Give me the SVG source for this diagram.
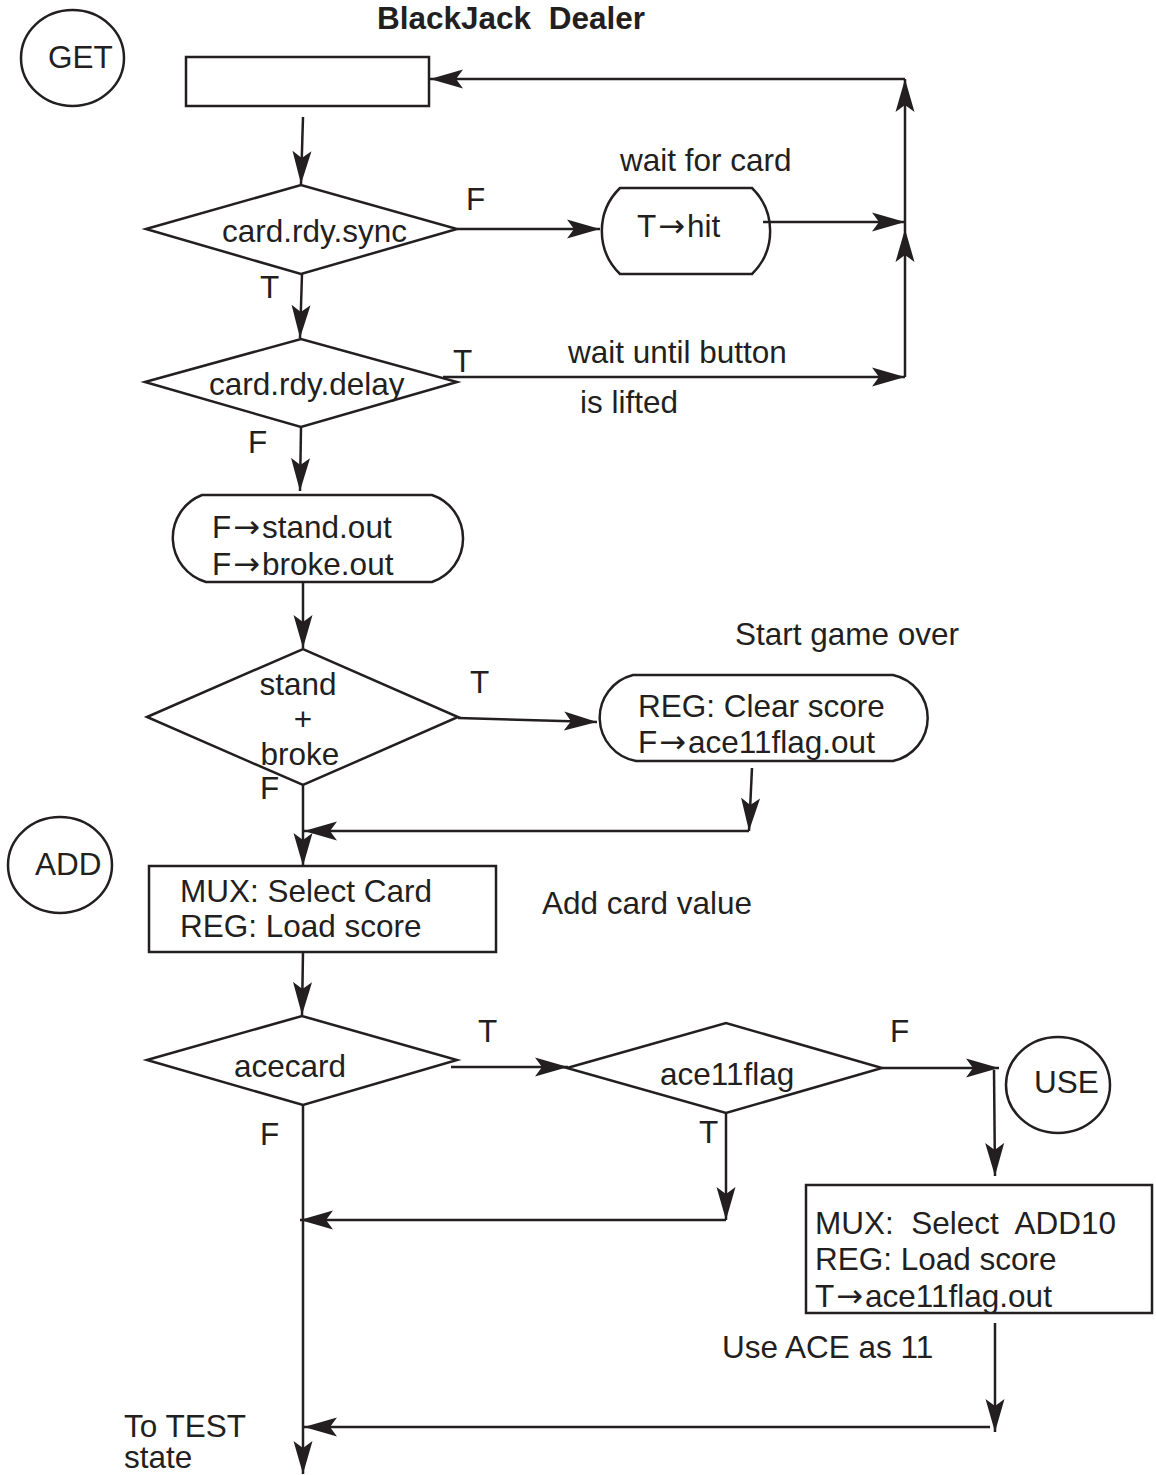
<svg xmlns="http://www.w3.org/2000/svg" width="1156" height="1475" viewBox="0 0 1156 1475">
<style>
text{font-family:"Liberation Sans",Arial,sans-serif;font-size:31.5px;fill:#231f20}
.b{font-weight:bold}
.pre{white-space:pre}
.m{text-anchor:middle}
.ar{font-family:"DejaVu Sans",sans-serif;font-size:32px}
.s{fill:#fff;stroke:#231f20;stroke-width:2.5}
.c{fill:none;stroke:#231f20;stroke-width:2.5}
.a{marker-end:url(#ah)}
</style>
<defs>
<marker id="ah" markerWidth="36" markerHeight="22" refX="33" refY="11" orient="auto" markerUnits="userSpaceOnUse">
<path d="M0,1.5 L33,11 L0,20.5 L7,11 Z" fill="#231f20"/>
</marker>
</defs>
<rect width="1156" height="1475" fill="#fff"/>
<text class="b pre" x="377" y="29">BlackJack  Dealer</text>

<g id="get"><ellipse class="s" cx="72.5" cy="58" rx="51.5" ry="48"/><text x="48" y="68">GET</text></g>
<g id="start-box"><rect class="s" x="186" y="57" width="243" height="49"/></g>
<g id="sync"><polygon class="s" points="146,229 301,185 457,229 301,274"/><text x="222" y="242">card.rdy.sync</text></g>
<g id="hit"><path class="s" d="M620,188 L752,188 A60,60 0 0 1 752,274 L620,274 A60,60 0 0 1 620,188 Z"/><text x="637" y="237">T<tspan class="ar" dx="2">→</tspan><tspan dx="2">hit</tspan></text></g>
<g id="delay"><polygon class="s" points="145,382 301,339 457,382 301,427"/><text x="209" y="395">card.rdy.delay</text></g>
<g id="clear-flags"><path class="s" d="M202,495 L432,495 A46,46 0 0 1 432,582 L206,582 A46,46 0 0 1 202,495 Z"/><text x="212" y="538">F<tspan class="ar" dx="2">→</tspan><tspan dx="2">stand.out</tspan></text><text x="212" y="575">F<tspan class="ar" dx="2">→</tspan><tspan dx="2">broke.out</tspan></text></g>
<g id="standbroke"><polygon class="s" points="147,717 303,649 458,717 303,785"/><text class="m" x="298" y="695">stand</text><text class="m" x="303" y="730">+</text><text class="m" x="300" y="765">broke</text></g>
<g id="clear-score"><path class="s" d="M633,675 L893,675 A44,44 0 0 1 893,761 L636,761 A44,44 0 0 1 633,675 Z"/><text x="638" y="717">REG: Clear score</text><text x="638" y="753">F<tspan class="ar" dx="2">→</tspan><tspan dx="2">ace11flag.out</tspan></text></g>
<g id="add"><ellipse class="s" cx="60" cy="865" rx="52" ry="48"/><text x="35" y="875">ADD</text></g>
<g id="load-card"><rect class="s" x="149" y="866" width="347" height="86"/><text x="180" y="902">MUX: Select Card</text><text x="180" y="937">REG: Load score</text></g>
<g id="acecard"><polygon class="s" points="147,1060 302,1016 457,1060 303,1105"/><text x="234" y="1077">acecard</text></g>
<g id="ace11flag"><polygon class="s" points="567,1068 726,1023 882,1068 726,1113"/><text x="660" y="1085">ace11flag</text></g>
<g id="use"><ellipse class="s" cx="1058" cy="1085" rx="52" ry="48"/><text x="1034" y="1093">USE</text></g>
<g id="add10"><rect class="s" x="806" y="1185" width="346" height="128"/><text class="pre" x="815" y="1234">MUX:  Select  ADD10</text><text x="815" y="1270">REG: Load score</text><text x="815" y="1307">T<tspan class="ar" dx="2">→</tspan><tspan dx="2">ace11flag.out</tspan></text></g>

<g id="connectors">
<line class="c a" x1="303" y1="117" x2="301" y2="184"/>
<line class="c a" x1="457" y1="229" x2="600" y2="229"/>
<line class="c a" x1="763" y1="222" x2="905" y2="222"/>
<line class="c a" x1="905" y1="377" x2="905" y2="229"/>
<line class="c a" x1="905" y1="229" x2="905" y2="79"/>
<line class="c a" x1="905" y1="79" x2="430" y2="79"/>
<line class="c a" x1="302" y1="274" x2="300" y2="338"/>
<line class="c a" x1="443" y1="377" x2="905" y2="377"/>
<line class="c a" x1="301" y1="427" x2="300" y2="491"/>
<line class="c a" x1="303" y1="582" x2="303" y2="648"/>
<line class="c a" x1="458" y1="718" x2="597" y2="722"/>
<line class="c a" x1="752" y1="768" x2="749" y2="831"/>
<line class="c a" x1="749" y1="831" x2="304" y2="831"/>
<line class="c a" x1="303" y1="785" x2="303" y2="866"/>
<line class="c a" x1="303" y1="952" x2="302" y2="1015"/>
<line class="c a" x1="451" y1="1067" x2="568" y2="1067"/>
<line class="c a" x1="882" y1="1068" x2="999" y2="1068"/>
<line class="c a" x1="994" y1="1070" x2="995" y2="1176"/>
<line class="c a" x1="726" y1="1113" x2="726" y2="1220"/>
<line class="c a" x1="726" y1="1220" x2="300" y2="1220"/>
<line class="c a" x1="995" y1="1323" x2="995" y2="1432"/>
<line class="c a" x1="990" y1="1427" x2="304" y2="1427"/>
<line class="c a" x1="303" y1="1105" x2="303" y2="1474"/>
</g>

<g id="labels">
<text x="466" y="210">F</text>
<text x="620" y="171">wait for card</text>
<text x="260" y="298">T</text>
<text x="453" y="372">T</text>
<text x="568" y="363">wait until button</text>
<text x="580" y="413">is lifted</text>
<text x="248" y="453">F</text>
<text x="735" y="645">Start game over</text>
<text x="470" y="693">T</text>
<text x="260" y="799">F</text>
<text x="542" y="914">Add card value</text>
<text x="478" y="1042">T</text>
<text x="890" y="1042">F</text>
<text x="699" y="1143">T</text>
<text x="260" y="1145">F</text>
<text x="722" y="1358">Use ACE as 11</text>
<text x="124" y="1437">To TEST</text>
<text x="124" y="1468">state</text>
</g>
</svg>
